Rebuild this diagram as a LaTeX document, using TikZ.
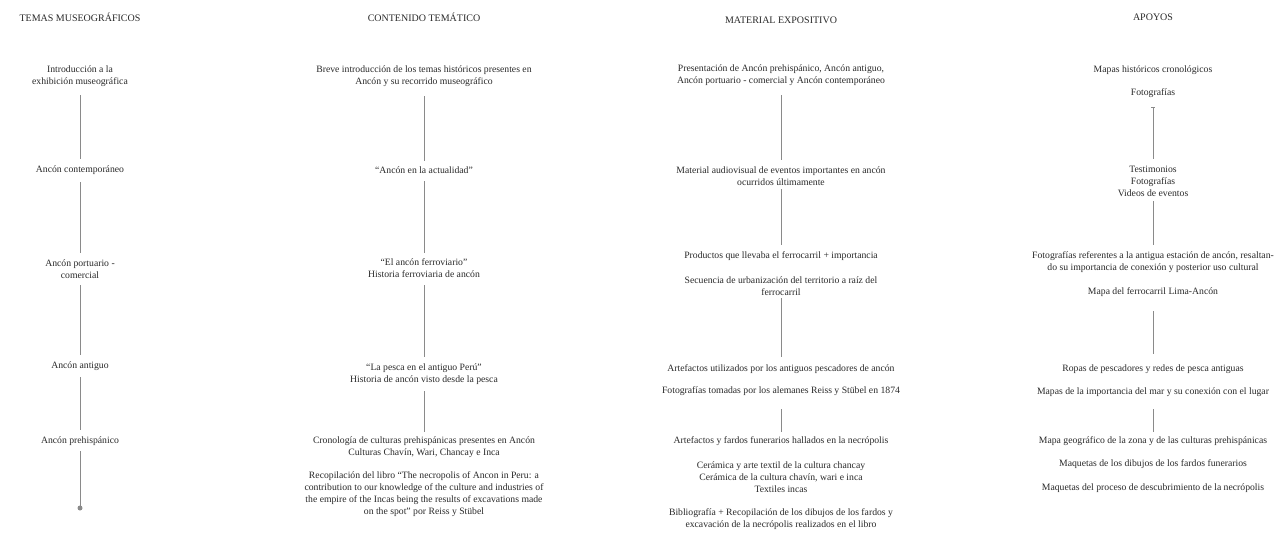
\documentclass[tikz,border=0pt]{standalone}
\usepackage{fontspec}
\usetikzlibrary{arrows.meta}
\setmainfont{Liberation Serif}
\definecolor{txt}{HTML}{2A2A2A}
\definecolor{ln}{HTML}{8A8A8A}
\begin{document}
\begin{tikzpicture}[x=1pt,y=-1pt,
  every node/.style={inner sep=0pt,outer sep=0pt,align=center,text=txt,
    font=\fontsize{9.7}{12}\selectfont},
  head/.style={font=\fontsize{10}{12}\selectfont},
  conn/.style={draw=ln,line width=0.8pt},
  enddot/.style={circle,fill=ln,minimum size=5pt,inner sep=0pt}]
\useasboundingbox[fill=white] (0,0) rectangle (1284,533);

% ---------- column 1
\node[head] (h1) at (80,17) {TEMAS MUSEOGRÁFICOS};
\node (a1) at (80,76) {Introducción a la\\exhibición museográfica};
\node (a2) at (80,170) {Ancón contemporáneo};
\node (a3) at (80,269) {Ancón portuario -\\comercial};
\node (a4) at (80,366) {Ancón antiguo};
\node (a5) at (80,441) {Ancón prehispánico};
\node[enddot] (a6) at (80,508) {};
\draw[conn,shorten <=9pt,shorten >=7pt] (a1) -- (a2);
\draw[conn,shorten <=8pt,shorten >=7pt] (a2) -- (a3);
\draw[conn,shorten <=7pt,shorten >=7pt] (a3) -- (a4);
\draw[conn,shorten <=7pt,shorten >=7pt] (a4) -- (a5);
\draw[conn,shorten <=6pt] (a5) -- (a6);

% ---------- column 2
\node[head] (h2) at (424,17) {CONTENIDO TEMÁTICO};
\node (b1) at (424,76) {Breve introducción de los temas históricos presentes en\\Ancón y su recorrido museográfico};
\node (b2) at (424,170) {``Ancón en la actualidad''};
\node (b3) at (424,268) {``El ancón ferroviario''\\Historia ferroviaria de ancón};
\node (b4) at (424,374) {``La pesca en el antiguo Perú''\\Historia de ancón visto desde la pesca};
\node (b5) at (424,447) {Cronología de culturas prehispánicas presentes en Ancón\\Culturas Chavín, Wari, Chancay e Inca};
\node (b6) at (424,494) {Recopilación del libro ``The necropolis of Ancon in Peru: a\\contribution to our knowledge of the culture and industries of\\the empire of the Incas being the results of excavations made\\on the spot'' por Reiss y Stübel};
\draw[conn,shorten <=10pt,shorten >=6pt] (b1) -- (b2);
\draw[conn,shorten <=8pt,shorten >=6pt] (b2) -- (b3);
\draw[conn,shorten <=8pt,shorten >=7pt] (b3) -- (b4);
\draw[conn,shorten <=7pt,shorten >=5pt] (b4) -- (b5);

% ---------- column 3
\node[head] (h3) at (781,20) {MATERIAL EXPOSITIVO};
\node (c1) at (781,75) {Presentación de Ancón prehispánico, Ancón antiguo,\\Ancón portuario - comercial y Ancón contemporáneo};
\node (c2) at (781,176) {Material audiovisual de eventos importantes en ancón\\ocurridos últimamente};
\node (c3) at (781,256) {Productos que llevaba el ferrocarril + importancia};
\node (c4) at (781,286) {Secuencia de urbanización del territorio a raíz del\\ferrocarril};
\node (c5) at (781,369) {Artefactos utilizados por los antiguos pescadores de ancón};
\node (c6) at (781,391) {Fotografías tomadas por los alemanes Reiss y Stübel en 1874};
\node (c7) at (781,441) {Artefactos y fardos funerarios hallados en la necrópolis};
\node (c8) at (781,477) {Cerámica y arte textil de la cultura chancay\\Cerámica de la cultura chavín, wari e inca\\Textiles incas};
\node (c9) at (781,519) {Bibliografía + Recopilación de los dibujos de los fardos y\\excavación de la necrópolis realizados en el libro};
\draw[conn,shorten <=10pt,shorten >=7pt] (c1) -- (c2);
\draw[conn,shorten <=4pt,shorten >=7pt] (c2) -- (c3);
\draw[conn,shorten <=3pt,shorten >=8pt] (c4) -- (c5);
\draw[conn,shorten <=14pt,shorten >=5pt] (c6) -- (c7);

% ---------- column 4
\node[head] (h4) at (1153,17) {APOYOS};
\node (d1) at (1153,70) {Mapas históricos cronológicos};
\node (d2) at (1153,93) {Fotografías};
\node (d3) at (1153,181) {Testimonios\\Fotografías\\Videos de eventos};
\node (d4) at (1153,262) {Fotografías referentes a la antigua estación de ancón, resaltan-\\do su importancia de conexión y posterior uso cultural};
\node (d5) at (1153,292) {Mapa del ferrocarril Lima-Ancón};
\node (d6) at (1153,369) {Ropas de pescadores y redes de pesca antiguas};
\node (d7) at (1153,392) {Mapas de la importancia del mar y su conexión con el lugar};
\node (d8) at (1153,441) {Mapa geográfico de la zona y de las culturas prehispánicas};
\node (d9) at (1153,464) {Maquetas de los dibujos de los fardos funerarios};
\node (d10) at (1153,488) {Maquetas del proceso de descubrimiento de la necrópolis};
\draw[conn,{Bar[width=4pt,line width=0.6pt]}-,shorten <=10pt,shorten >=7pt] (d2) -- (d3);
\draw[conn,shorten <=5pt,shorten >=7pt] (d3) -- (d4);
\draw[conn,shorten <=15pt,shorten >=11pt] (d5) -- (d6);
\draw[conn,shorten <=13pt,shorten >=5pt] (d7) -- (d8);
\end{tikzpicture}
\end{document}
